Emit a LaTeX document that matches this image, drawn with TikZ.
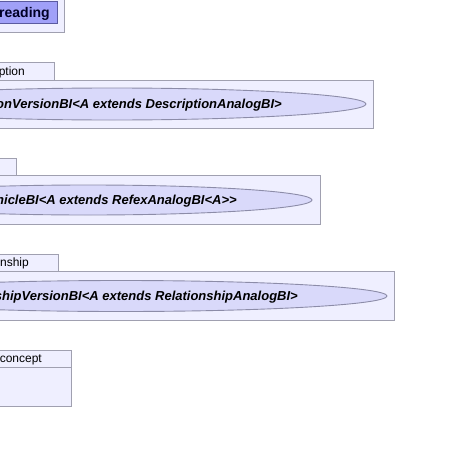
\documentclass[tikz,border=0pt]{standalone}
\usepackage{fontspec}
\setmainfont{Liberation Sans}
\definecolor{pkgfill}{HTML}{EFEFFF}
\definecolor{pkgline}{HTML}{A0A0B0}
\definecolor{ucfill}{HTML}{D9D9FA}
\definecolor{ucline}{HTML}{8C8CA8}
\definecolor{rdfill}{HTML}{A0A0F8}
\definecolor{rdline}{HTML}{5A5AA0}
\tikzset{
  pkg/.style={draw=pkgline, fill=pkgfill, line width=0.9pt},
  uc/.style={draw=ucline, fill=ucfill, line width=0.9pt},
  tablabel/.style={font=\fontsize{12}{14}\selectfont, inner sep=0pt, anchor=base east, text=black},
  uclabel/.style={font=\fontsize{13}{15}\selectfont\bfseries\itshape, inner sep=0pt, anchor=base east, text=black},
}
\begin{document}
\begin{tikzpicture}[x=1pt,y=-1pt]
\useasboundingbox (0,0) rectangle (473,452);
\clip (0,0) rectangle (473,452);
% reading
\draw[pkg] (-100,-5) rectangle (64.5,32);
\draw[draw=rdline, fill=rdfill, line width=0.9pt] (-100,1) rectangle (57,23);
\node[font=\fontsize{14}{16}\selectfont\bfseries, inner sep=0pt, anchor=base east, text=black!85!blue] (reading) at (50,18) {reading};
% description
\draw[pkg] (-100,62) rectangle (54,80);
\node[tablabel] (desctab) at (25,75) {description};
\draw[pkg] (-100,80) rectangle (373,128);
\draw[uc] (112,104) ellipse [x radius=254, y radius=16];
\node[uclabel] (descuc) at (282,108.5) {DescriptionVersionBI<A extends DescriptionAnalogBI>};
% refex
\draw[pkg] (-100,158) rectangle (16,175);
\node[tablabel] (refextab) at (-5,171) {refex};
\draw[pkg] (-100,175) rectangle (320.5,224);
\draw[uc] (88,200) ellipse [x radius=224, y radius=15];
\node[uclabel] (refexuc) at (237,204.5) {RefexChronicleBI<A extends RefexAnalogBI<A>{}>};
% relationship
\draw[pkg] (-100,254) rectangle (58,271);
\node[tablabel] (reltab) at (29,266) {relationship};
\draw[pkg] (-100,271) rectangle (394.5,320);
\draw[uc] (121,296) ellipse [x radius=266, y radius=15.5];
\node[uclabel] (reluc) at (298,300.5) {RelationshipVersionBI<A extends RelationshipAnalogBI>};
% concept
\draw[pkg] (-100,350) rectangle (71,406);
\draw[pkgline, line width=0.9pt] (-100,367) -- (71,367);
\node[tablabel] (concept) at (42,362.5) {concept};
\end{tikzpicture}
\end{document}
